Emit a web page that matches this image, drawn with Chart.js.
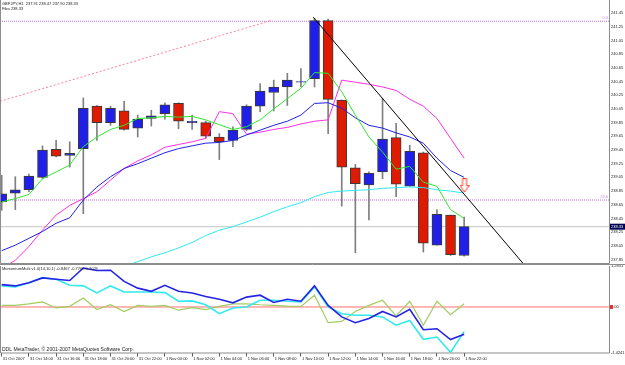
<!DOCTYPE html>
<html lang="en">
<head>
<meta charset="UTF-8">
<title>GBPJPY,H1</title>
<script src="https://cdn.jsdelivr.net/npm/chart.js"></script>
<style>
  html, body { margin: 0; padding: 0; background: #fff; }
  #wrap { position: relative; width: 625px; height: 365px; overflow: hidden; background: #fff; }
  #main { position: absolute; left: 0; top: 0; }
  #mom { position: absolute; left: 0; top: 264px; }
</style>
</head>
<body>
<div id="wrap">
  <canvas id="main" width="625" height="264"></canvas>
  <canvas id="mom" width="625" height="101"></canvas>
</div>
<script>
// hourly bars, 31 Oct 12:00 .. 1 Nov 22:00
const opens  = [238.69,238.82,238.87,239.05,239.46,239.37,239.47,240.09,239.85,240.02,239.77,239.91,239.98,240.13,239.85,239.85,239.64,239.59,239.75,240.09,240.29,240.37,240.44,240.49,241.34,240.18,239.19,238.94,239.13,239.63,238.92,239.41,238.06,238.50,237.91];
const highs  = [239.08,239.06,239.10,239.51,239.59,239.57,240.21,240.10,240.09,240.16,239.96,240.03,240.14,240.14,239.96,239.87,239.69,239.79,240.11,240.42,240.47,240.57,240.64,241.37,241.36,240.18,239.24,239.13,240.20,239.84,239.52,239.42,238.58,238.50,238.47];
const lows   = [238.57,238.58,238.84,239.03,239.35,239.20,238.52,239.59,239.81,239.74,239.64,239.80,239.90,239.76,239.75,239.62,239.31,239.50,239.73,240.01,240.02,240.10,240.37,240.37,239.69,238.63,237.95,238.43,239.03,238.77,238.92,237.96,238.06,237.91,237.90];
const closes = [238.81,238.87,239.07,239.45,239.36,239.40,240.06,239.85,240.06,239.75,239.90,239.95,240.11,239.87,239.87,239.65,239.57,239.74,240.09,240.31,240.37,240.47,240.45,241.34,240.19,239.20,238.96,239.11,239.61,238.95,239.43,238.09,238.51,237.92,238.33];

// moving averages on the price chart
const maGreen   = [238.69,238.74,238.80,239.03,239.13,239.23,239.50,239.64,239.75,239.81,239.91,239.92,239.94,239.93,239.94,239.89,239.82,239.75,239.79,239.89,240.05,240.20,240.35,240.58,240.57,240.30,239.96,239.64,239.42,239.17,239.21,238.98,238.92,238.58,238.45];
const maBlue    = [237.98,238.06,238.16,238.26,238.38,238.46,238.72,238.91,239.06,239.18,239.25,239.33,239.41,239.47,239.51,239.55,239.56,239.59,239.67,239.74,239.81,239.87,239.96,240.13,240.14,240.06,239.92,239.81,239.77,239.70,239.64,239.55,239.33,239.15,239.05];
const maMagenta = [237.72,237.84,238.04,238.28,238.50,238.64,238.74,238.84,239.01,239.18,239.29,239.38,239.49,239.53,239.57,239.62,240.01,239.98,239.68,239.71,239.75,239.78,239.83,239.87,239.89,240.47,240.44,240.41,240.37,240.32,240.19,240.09,239.91,239.62,239.33];
const maCyan    = [null,null,null,null,null,null,null,null,null,237.75,237.82,237.89,237.95,238.02,238.10,238.20,238.28,238.33,238.40,238.47,238.55,238.62,238.68,238.77,238.83,238.85,238.86,238.87,238.89,238.90,238.91,238.90,238.87,238.85,238.82];

// objects drawn on the chart
const trendBlackX = [22.9, 38.35];
const trendBlackY = [241.39, 237.79];
const trendPinkX = [-0.125, 19.88];
const trendPinkY = [240.16, 241.345];
const fibLevels = [241.33, 238.72];
const fibLabels = ['0.0', '23.6'];
const bidPrice = 238.33;
const arrowAt = {x: 34.03, y: 238.93};

// momentum sub window
const momBlue  = [0.70,0.66,0.76,0.91,0.87,0.83,1.22,1.14,1.15,0.80,0.59,0.49,0.68,0.49,0.44,0.33,0.24,0.13,0.31,0.37,0.14,0.24,0.18,0.66,0.05,-0.31,-0.49,-0.36,-0.14,-0.31,-0.07,-0.71,-0.68,-1.02,-0.85];
const momCyan  = [0.66,0.63,0.76,0.92,0.87,0.68,0.66,0.44,0.66,0.47,0.47,0.47,0.45,0.18,0.19,0.07,-0.21,-0.03,0.00,0.21,0.21,0.18,0.16,0.63,0.00,-0.21,-0.26,-0.26,-0.31,-0.57,-0.42,-1.01,-0.94,-1.42,-0.77];
const momGreen = [0.05,0.05,0.10,0.16,-0.03,0.02,0.28,-0.08,0.07,-0.14,0.05,0.02,0.05,-0.10,-0.02,-0.08,0.02,0.10,0.10,0.07,0.05,0.03,0.02,0.37,-0.49,-0.45,-0.14,0.05,0.21,-0.28,0.18,-0.57,0.18,-0.24,0.10];

// axes
const priceTicks = [241.45,241.25,241.05,240.85,240.65,240.45,240.25,240.05,239.85,239.65,239.45,239.25,239.05,238.85,238.65,238.45,238.25,238.05,237.85];
const momTicks = [1.2831, 0, -1.4241];
const momTickLabels = ['1.2831', '0.00', '-1.4241'];
const timeIdx = [0,2,4,6,8,10,12,14,16,18,20,22,24,26,28,30,32,34];
const timeLabels = ['31 Oct 2007','31 Oct 14:00','31 Oct 16:00','31 Oct 18:00','31 Oct 20:00','31 Oct 22:00','1 Nov 00:00','1 Nov 02:00','1 Nov 04:00','1 Nov 06:00','1 Nov 08:00','1 Nov 10:00','1 Nov 12:00','1 Nov 14:00','1 Nov 16:00','1 Nov 18:00','1 Nov 20:00','1 Nov 22:00'];

const mainTitle = 'GBPJPY,H1  237.91 238.47 237.90 238.33';
const mainSub = 'Fibo 238.33';
const momTitle = 'MomentumMulti v1.0(14,10,1) -0.8467 -0.7700 0.1029';
const copyText = 'DDL MetaTrader, \u00a9 2001-2007 MetaQuotes Software Corp.';

const FONT = 'Liberation Sans';
const xMin = -0.125, xMax = 44.65;
const BULL = '#1f1fe8', BEAR = '#de1a00';

function pts(arr) {
  return arr.map((v, i) => v == null ? null : {x: i, y: v}).filter(Boolean);
}
function seg(xs, ys) {
  return xs.map((x, i) => ({x: x, y: ys[i]}));
}
function hline(v) {
  return [{x: xMin, y: v}, {x: xMax, y: v}];
}
function line(data, color, width, order, dash) {
  return {type: 'line', data: data, borderColor: color, borderWidth: width, borderDash: dash || [],
    pointRadius: 0, pointHoverRadius: 0, tension: 0, fill: false, order: order};
}

function makeArrow() {
  const c = document.createElement('canvas');
  c.width = 10; c.height = 15;
  const g = c.getContext('2d');
  g.beginPath();
  g.moveTo(3, 0.5); g.lineTo(7, 0.5); g.lineTo(7, 7.5); g.lineTo(9.5, 7.5);
  g.lineTo(5, 14); g.lineTo(0.5, 7.5); g.lineTo(3, 7.5); g.closePath();
  g.fillStyle = '#fff'; g.fill();
  g.strokeStyle = '#ff3b1f'; g.lineWidth = 1; g.stroke();
  return c;
}

const bodies = opens.map((o, i) => ({x: i, y: [o, closes[i]]}));
const wicks = lows.map((l, i) => ({x: i, y: [l, highs[i]]}));
const bodyColors = opens.map((o, i) => closes[i] >= o ? BULL : BEAR);

function frame(ctx, a) {
  ctx.save();
  ctx.strokeStyle = '#8c8c8c';
  ctx.lineWidth = 1;
  ctx.beginPath();
  ctx.moveTo(a.left + 0.5, a.top);
  ctx.lineTo(a.left + 0.5, a.bottom + 0.5);
  ctx.lineTo(a.right + 0.5, a.bottom + 0.5);
  ctx.lineTo(a.right + 0.5, a.top);
  ctx.stroke();
  ctx.restore();
}

const mainDeco = {
  id: 'mainDeco',
  afterDraw(chart) {
    const ctx = chart.ctx, a = chart.chartArea, y = chart.scales.y;
    frame(ctx, a);
    ctx.save();
    ctx.font = '4px "' + FONT + '"';
    ctx.textBaseline = 'middle';
    ctx.fillStyle = '#222';
    ctx.textAlign = 'left';
    ctx.fillText(mainTitle, 2, 4);
    ctx.fillText(mainSub, 2, 9);
    ctx.fillStyle = '#c58ae0';
    ctx.textAlign = 'right';
    fibLevels.forEach((v, i) => ctx.fillText(fibLabels[i], a.right - 1, y.getPixelForValue(v) - 3));
    const py = y.getPixelForValue(bidPrice);
    ctx.fillStyle = '#000050';
    ctx.fillRect(a.right + 1, py - 3, 16, 6);
    ctx.fillStyle = '#fff';
    ctx.textAlign = 'left';
    ctx.fillText(bidPrice.toFixed(2), a.right + 2, py);
    ctx.restore();
  }
};

const momDeco = {
  id: 'momDeco',
  afterDraw(chart) {
    const ctx = chart.ctx, a = chart.chartArea, y = chart.scales.y;
    frame(ctx, a);
    ctx.save();
    ctx.strokeStyle = '#8c8c8c';
    ctx.beginPath(); ctx.moveTo(0, 0.5); ctx.lineTo(625, 0.5); ctx.stroke();
    ctx.textBaseline = 'middle';
    ctx.fillStyle = '#222';
    ctx.font = '4px "' + FONT + '"';
    ctx.fillText(momTitle, 2, a.top + 2.5);
    ctx.font = '5px "' + FONT + '"';
    ctx.fillText(copyText, 2, a.bottom - 3);
    const zy = y.getPixelForValue(0);
    ctx.fillStyle = '#e83030';
    ctx.fillRect(a.right + 1, zy - 2, 3, 4);
    ctx.restore();
  }
};

new Chart(document.getElementById('main'), {
  type: 'bar',
  data: {
    datasets: [
      line(seg(trendBlackX, trendBlackY), '#000', 1, 0),
      line(seg(trendPinkX, trendPinkY), '#ff7f9a', 1, 0, [2, 2]),
      {type: 'scatter', data: [arrowAt], pointStyle: makeArrow(), pointRadius: 6, pointHoverRadius: 6, order: 0},
      line(pts(maGreen), '#2ee82e', 1, 1),
      line(pts(maBlue), '#2020e8', 1, 1),
      line(pts(maMagenta), '#ff2ee0', 1, 1),
      line(pts(maCyan), '#2eeaf0', 1, 1),
      {data: bodies, backgroundColor: bodyColors, borderColor: '#3a3a3a', borderWidth: 1,
        borderSkipped: false, barThickness: 10, grouped: false, order: 5},
      {data: wicks, backgroundColor: '#7f7f7f', borderWidth: 0, barThickness: 1, grouped: false, order: 6},
      line(hline(fibLevels[0]), '#c070e0', 1, 8, [1, 1]),
      line(hline(fibLevels[1]), '#c070e0', 1, 8, [1, 1]),
      line(hline(bidPrice), '#c4c4c4', 1, 8)
    ]
  },
  options: {
    responsive: false,
    animation: false,
    layout: {autoPadding: false, padding: {top: 0, bottom: 1, left: 0, right: 0}},
    plugins: {legend: {display: false}, tooltip: {enabled: false}},
    scales: {
      x: {type: 'linear', min: xMin, max: xMax, offset: false, display: false},
      y: {
        position: 'right', min: 237.80, max: 241.64,
        grid: {display: false, drawTicks: false},
        border: {display: false},
        ticks: {font: {family: FONT, size: 4}, color: '#222', padding: 2, autoSkip: false,
          callback: v => v.toFixed(2)},
        afterBuildTicks: s => { s.ticks = priceTicks.map(v => ({value: v})); },
        afterFit: s => { s.width = 16; s.paddingTop = 0; s.paddingBottom = 0; }
      }
    }
  },
  plugins: [mainDeco]
});

new Chart(document.getElementById('mom'), {
  type: 'line',
  data: {
    datasets: [
      line(hline(0), '#ff6e6e', 1, 9),
      line(pts(momGreen), '#a2cc62', 1.2, 3),
      line(pts(momCyan), '#30eaee', 1.6, 2),
      line(pts(momBlue), '#2424e6', 1.6, 1)
    ]
  },
  options: {
    responsive: false,
    animation: false,
    layout: {autoPadding: false, padding: {top: 2, bottom: 0, left: 0, right: 0}},
    plugins: {legend: {display: false}, tooltip: {enabled: false}},
    scales: {
      x: {
        type: 'linear', min: xMin, max: xMax, offset: false,
        grid: {display: true, drawOnChartArea: false, tickLength: 4, color: '#555'},
        border: {display: false},
        ticks: {font: {family: FONT, size: 4}, color: '#222', padding: 0, align: 'start',
          maxRotation: 0, autoSkip: false, callback: (v, i) => ' ' + timeLabels[i]},
        afterBuildTicks: s => { s.ticks = timeIdx.map(v => ({value: v})); },
        afterFit: s => { s.height = 12.5; s.paddingLeft = 0; s.paddingRight = 0; }
      },
      y: {
        position: 'right', min: -1.4241, max: 1.2831,
        grid: {display: false, drawTicks: false},
        border: {display: false},
        ticks: {font: {family: FONT, size: 4}, color: '#222', padding: 2, autoSkip: false,
          callback: (v, i) => momTickLabels[i]},
        afterBuildTicks: s => { s.ticks = momTicks.map(v => ({value: v})); },
        afterFit: s => { s.width = 16; s.paddingTop = 0; s.paddingBottom = 0; }
      }
    }
  },
  plugins: [momDeco]
});
</script>
</body>
</html>
